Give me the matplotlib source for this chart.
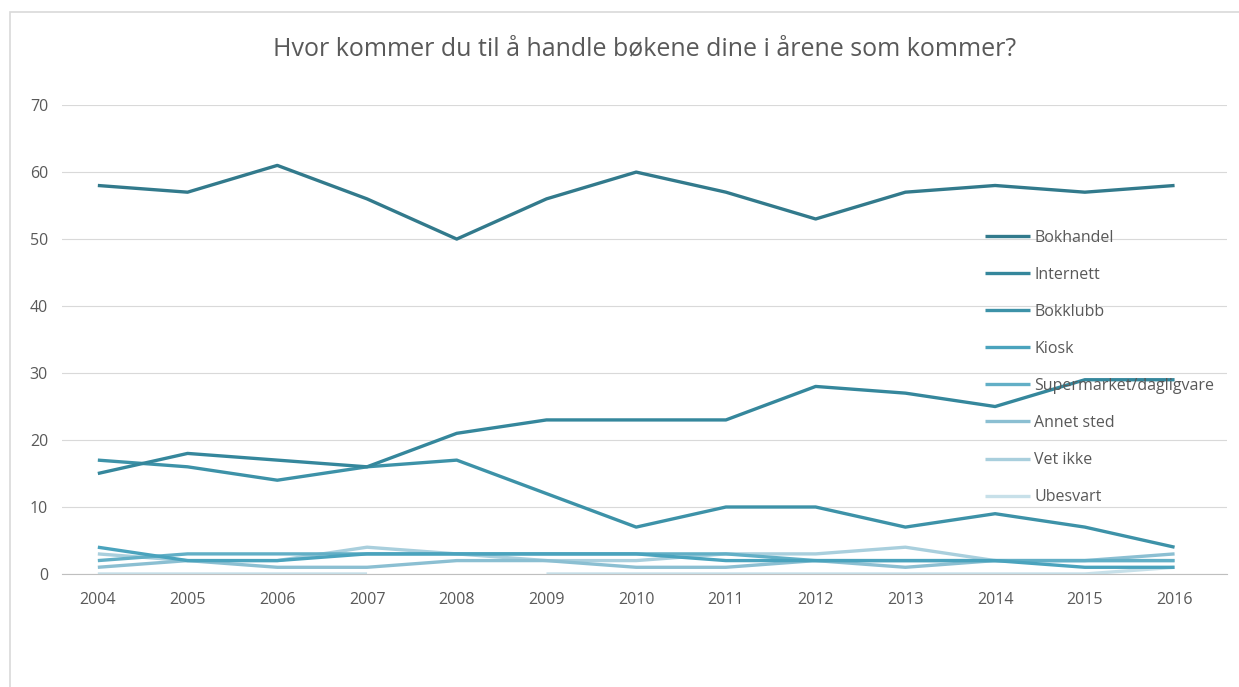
import numpy as np
import matplotlib.pyplot as plt
from matplotlib.patches import Rectangle

years = [2004, 2005, 2006, 2007, 2008, 2009, 2010, 2011, 2012, 2013, 2014, 2015, 2016]
bokhandel = [58, 57, 61, 56, 50, 56, 60, 57, 53, 57, 58, 57, 58]
internett = [15, 18, 17, 16, 21, 23, 23, 23, 28, 27, 25, 29, 29]
bokklubb = [17, 16, 14, 16, 17, 12, 7, 10, 10, 7, 9, 7, 4]
kiosk = [4, 2, 2, 3, 3, 3, 3, 2, 2, 2, 2, 1, 1]
supermarket = [2, 3, 3, 3, 3, 3, 3, 3, 2, 2, 2, 2, 2]
annet = [1, 2, 1, 1, 2, 2, 1, 1, 2, 1, 2, 2, 3]
vet_ikke = [3, 2, 2, 4, 3, 2, 2, 3, 3, 4, 2, 2, 2]
ubesvart = [0, 0, 0, 0, np.nan, 0, 0, 0, 0, 0, 0, 0, 1]

labels = ['Bokhandel', 'Internett', 'Bokklubb', 'Kiosk', 'Supermarket/dagligvare',
          'Annet sted', 'Vet ikke', 'Ubesvart']
series = [bokhandel, internett, bokklubb, kiosk, supermarket, annet, vet_ikke, ubesvart]
colors = ['#327a8c', '#35879c', '#3d92a8', '#4aa3bd', '#62afc6', '#8bbfd2', '#a9cfdd', '#c7e0e9']

plt.rcParams['font.family'] = ['Open Sans', 'DejaVu Sans']
text_color = '#595959'

fig = plt.figure(figsize=(12.39, 6.87), dpi=100)
fig.patches.append(Rectangle((10 / 1239, -0.1), 1.2, 1.1 - 12 / 687, transform=fig.transFigure,
                             fill=False, edgecolor='#d9d9d9', linewidth=1.2))
ax = fig.add_axes([0.050, 0.1645, 0.940, 0.6825])

# light series first so the darker ones sit on top
for vals, lab, col in reversed(list(zip(series, labels, colors))):
    ax.plot(years, vals, color=col, linewidth=2.4, label=lab, solid_capstyle='butt')

ax.set_xlim(2003.6, 2016.58)
ax.set_ylim(0, 70)
ax.set_yticks(range(0, 71, 10))
ax.set_xticks(years)
ax.grid(axis='y', color='#d9d9d9', linewidth=0.8)
ax.set_axisbelow(True)
for s in ['top', 'right', 'left']:
    ax.spines[s].set_visible(False)
ax.spines['bottom'].set_color('#bfbfbf')
ax.tick_params(length=0, labelsize=11.5, colors=text_color, pad=13)
ax.tick_params(axis='y', pad=10)

ax.set_title('Hvor kommer du til å handle bøkene dine i årene som kommer?',
             fontsize=18, color=text_color, pad=36)

handles, labs = ax.get_legend_handles_labels()
leg = ax.legend(handles[::-1], labs[::-1], loc='upper left', bbox_to_anchor=(0.787, 0.748),
                frameon=False, fontsize=11.5, labelspacing=1.32, handlelength=2.8,
                handletextpad=0.3, borderaxespad=0)
for t in leg.get_texts():
    t.set_color(text_color)

fig.savefig('out.png', dpi=100)
